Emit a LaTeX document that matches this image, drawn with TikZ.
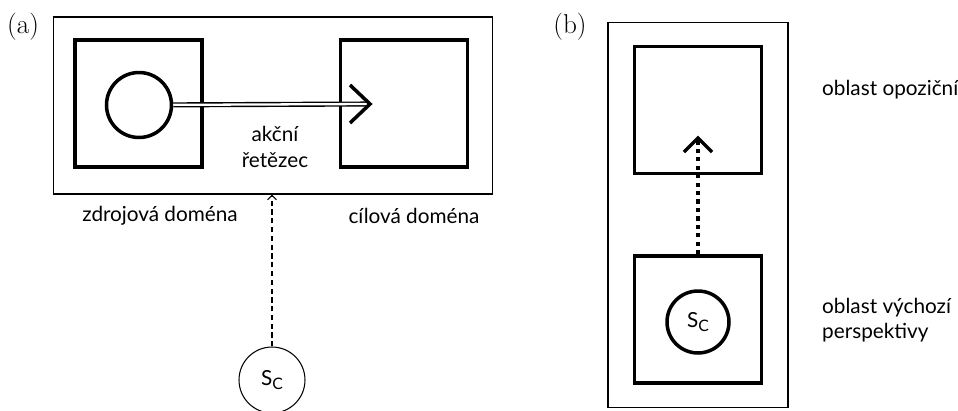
\documentclass[tikz,border=0pt]{standalone}
\usepackage{fontspec}
\setsansfont{Lato}
\usetikzlibrary{arrows.meta}

\begin{document}
\begin{tikzpicture}[x=0.02cm, y=-0.02cm,
    frame/.style={draw, line width=0.6pt, minimum width=#1},
    dom/.style={draw, line width=2pt, minimum size=2.54cm},
    ent/.style={draw, circle, line width=2pt, minimum size=1.3cm},
    lbl/.style={font=\sffamily\fontsize{11.8}{14.5}\selectfont},
    panel/.style={font=\fontsize{15.5}{18}\selectfont}]
    \useasboundingbox (0,0) rectangle (958,410);
    % (a)
    \node[panel] (pa) at (23,27) {(a)};
    \node[frame=8.8cm, minimum height=3.54cm] (ao) at (273,105.5) {};
    \node[dom] (zd) at (138.5,103.5) {};
    \node[dom] (cd) at (404,103.5) {};
    \node[ent] (c1) at (139,105) {};
    \coordinate (t1) at (370,104);
    \node[lbl, align=center] (ak) at (275,147) {akční\\řetězec};
    \node[lbl] (zl) at (160,216) {zdrojová doména};
    \node[lbl] (cl) at (414,216) {cílová doména};
    \node[draw, circle, line width=0.6pt, minimum size=1.32cm, lbl] (s1) at (272,380) {S\raisebox{-0.45ex}{\small C}};
    \draw[double, line width=0.8pt, double distance=1.3pt] (c1) -- (t1);
    \draw[line width=2pt] (t1) ++(-20,-19) -- (t1) -- ++(-20,19);
    \draw[dashed, dash pattern=on 3pt off 2pt, line width=0.6pt,
        -{Straight Barb[length=2.5pt, width=5pt, line width=0.6pt]}] (s1) -- (s1 |- ao.south);
    % (b)
    \node[panel] (pb) at (570,27) {(b)};
    \node[frame=3.6cm, minimum height=7.72cm] (bo) at (698,215) {};
    \node[dom] (op) at (698,110) {};
    \node[dom] (vp) at (698,319.5) {};
    \node[ent, minimum size=1.24cm, lbl] (s2) at (698,322) {S\raisebox{-0.45ex}{\small C}};
    \coordinate (t2) at (698,138);
    \node[lbl, anchor=west] (ol) at (816,90) {oblast opoziční};
    \node[lbl, anchor=west, align=left] (vl) at (816,320) {oblast výchozí\\perspektivy};
    \draw[line width=2pt, dash pattern=on 2.4pt off 2.4pt] (vp) -- (t2);
    \draw[line width=2pt] (t2) ++(-14,14) -- (t2) -- ++(14,14);
\end{tikzpicture}
\end{document}
